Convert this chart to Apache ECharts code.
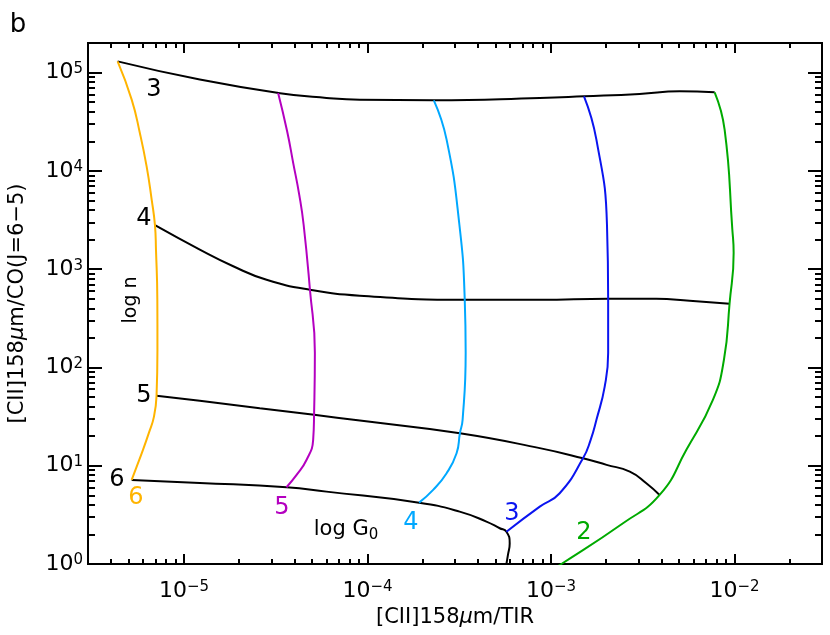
<!DOCTYPE html>
<html>
<head>
<meta charset="utf-8">
<script src="https://cdn.jsdelivr.net/npm/echarts@6/dist/echarts.min.js"></script>
<style>
  html, body { margin: 0; padding: 0; background: #fff; }
  #chart { width: 830px; height: 635px; }
</style>
</head>
<body>
<div id="chart"></div>
<script>
// axis ranges (data units) and decade ticks
const xRange = [3e-6, 3e-2]
const yRange = [1, 2e5]
const xDecades = [-5, -4, -3, -2]
const yDecades = [0, 1, 2, 3, 4, 5]

// curves of constant log G0
const g6X = [4.35e-6, 5.19e-6, 5.75e-6, 6.26e-6, 6.67e-6, 6.95e-6, 7.04e-6, 7.16e-6, 7.17e-6, 7.09e-6, 6.86e-6, 6.44e-6, 5.98e-6, 5.52e-6, 5.19e-6]
const g6Y = [1.30e5, 5.31e4, 2.43e4, 1.11e4, 5.09e3, 2.8e3, 1.58e3, 488, 151, 51.4, 31.4, 21.6, 14.5, 9.72, 7.17]
const g5X = [3.26e-5, 3.65e-5, 3.94e-5, 4.25e-5, 4.49e-5, 4.86e-5, 5.17e-5, 5.12e-5, 5.06e-5, 4.66e-5, 4.11e-5, 3.62e-5]
const g5Y = [6.21e4, 2.53e4, 1.20e4, 5.7e3, 2.83e3, 617, 141, 34.2, 18.3, 11.5, 8.06, 6.04]
const g4X = [2.30e-4, 2.70e-4, 3.17e-4, 3.39e-4, 3.43e-4, 3.30e-4, 3.19e-4, 3.06e-4, 2.70e-4, 2.28e-4, 1.912e-4]
const g4Y = [5.22e4, 2.08e4, 2.83e3, 488, 141, 29.3, 21.4, 13.4, 8.39, 5.67, 4.21]
const g3X = [1.514e-3, 1.769e-3, 2.02e-3, 2.05e-3, 2.05e-3, 1.963e-3, 1.77e-3, 1.646e-3, 1.495e-3, 1.116e-3, 8.69e-4, 5.72e-4]
const g3Y = [5.74e4, 2.08e4, 2.83e3, 500, 140, 63.9, 29.3, 18.3, 11.9, 5.25, 3.83, 2.13]
const g2X = [7.80e-3, 8.84e-3, 9.74e-3, 9.90e-3, 9.41e-3, 8.76e-3, 7.63e-3, 5.47e-3, 3.91e-3, 2.47e-3, 1.14e-3, 1.0e-3]
const g2Y = [6.30e4, 2.63e4, 2.52e3, 1.47e3, 452, 119, 46.8, 14.5, 5.04, 2.60, 1.0, 0.87]

// curves of constant log n
const n3X = [4.35e-6, 1.22e-5, 3.26e-5, 5.98e-5, 9.09e-5, 2.30e-4, 8.69e-4, 1.514e-3, 3.04e-3, 5.03e-3, 7.80e-3]
const n3Y = [1.30e5, 8.49e4, 6.21e4, 5.52e4, 5.28e4, 5.22e4, 5.52e4, 5.74e4, 6.07e4, 6.45e4, 6.30e4]
const n4X = [6.95e-6, 1.22e-5, 1.855e-5, 2.82e-5, 4.86e-5, 9.09e-5, 3.39e-4, 8.69e-4, 2.05e-3, 3.75e-3, 5.70e-3, 9.41e-3]
const n4Y = [2.8e3, 1.58e3, 1.07e3, 780, 617, 536, 488, 488, 500, 500, 477, 444]
const n5X = [7.09e-6, 1.22e-5, 2.59e-5, 5.12e-5, 9.09e-5, 3.19e-4, 8.69e-4, 1.495e-3, 2.01e-3, 2.69e-3, 3.31e-3, 3.91e-3]
const n5Y = [51.4, 45.7, 38.5, 33.0, 28.8, 21.4, 15.1, 11.9, 10.2, 8.71, 6.63, 5.04]
const n6X = [5.19e-6, 1.22e-5, 3.62e-5, 5.98e-5, 1.912e-4, 3.18e-4, 4.45e-4, 5.26e-4, 5.72e-4, 5.96e-4, 5.83e-4, 5.72e-4, 5.6e-4]
const n6Y = [7.17, 6.68, 6.04, 5.45, 4.21, 3.41, 2.70, 2.31, 2.13, 1.62, 1.24, 1.0, 0.77]

const FONT = 'DejaVu Sans'

const toLog = (xs, ys) => xs.map((x, i) => [Math.log10(x), Math.log10(ys[i])])

function minorTicks(range) {
  const lo = Math.log10(range[0]), hi = Math.log10(range[1])
  const out = []
  for (let d = Math.floor(lo); d <= Math.ceil(hi); d++) {
    for (let k = 2; k <= 9; k++) {
      const v = d + Math.log10(k)
      if (v > lo && v < hi) out.push(v)
    }
  }
  return out
}

// plain "10" in the label's own font, exponent as rich superscript
const powLabel = v => '10{sup|' + String(Math.round(v)).replace('-', '\u2212') + '}'

function makeAxis(dim, position, major, labelled) {
  const range = dim === 'x' ? xRange : yRange
  const ticks = major ? (dim === 'x' ? xDecades : yDecades) : minorTicks(range)
  const len = dim === 'x' ? (major ? 10 : 5) : (major ? 14 : 7)
  const axis = {
    type: 'value',
    position,
    min: Math.log10(range[0]),
    max: Math.log10(range[1]),
    axisLine: { show: true, onZero: false, lineStyle: { color: '#000', width: 2 } },
    axisTick: { show: true, inside: true, length: len, customValues: ticks, lineStyle: { color: '#000', width: 2 } },
    axisLabel: { show: false },
    splitLine: { show: false }
  }
  if (labelled) {
    axis.axisLabel = {
      show: true,
      customValues: ticks,
      margin: dim === 'x' ? 16 : 5,
      fontSize: 22,
      fontFamily: FONT,
      color: '#000',
      formatter: powLabel,
      rich: {
        sup: { fontSize: 15, fontFamily: FONT, color: '#000', verticalAlign: 'top', lineHeight: 15 }
      }
    }
  }
  return axis
}

const titleStyle = {
  fontSize: 21,
  fontFamily: FONT,
  rich: {
    a: { fontSize: 21, fontFamily: FONT, color: '#000' },
    m: { fontSize: 21, fontFamily: FONT, fontStyle: 'italic', color: '#000' }
  }
}

const xAxes = [
  makeAxis('x', 'bottom', true, true),
  makeAxis('x', 'bottom', false, false),
  makeAxis('x', 'top', true, false),
  makeAxis('x', 'top', false, false)
]
const yAxes = [
  makeAxis('y', 'left', true, true),
  makeAxis('y', 'left', false, false),
  makeAxis('y', 'right', true, false),
  makeAxis('y', 'right', false, false)
]
xAxes[0].name = '{a|[CII]158}{m|\u03bc}{a|m/TIR}'
xAxes[0].nameLocation = 'middle'
xAxes[0].nameGap = 42
xAxes[0].nameTextStyle = titleStyle
yAxes[0].name = '{a|[CII]158}{m|\u03bc}{a|m/CO(J=6\u22125)}'
yAxes[0].nameLocation = 'middle'
yAxes[0].nameRotate = 90
yAxes[0].nameGap = 60
yAxes[0].nameTextStyle = titleStyle

const curve = (name, xs, ys, color) => ({
  name,
  type: 'line',
  data: toLog(xs, ys),
  showSymbol: false,
  smooth: 0.5,
  clip: true,
  lineStyle: { color, width: 2 },
  z: 3
})

const text = (x, y, str, color, size, extra) => Object.assign({
  type: 'text',
  x, y,
  style: {
    text: str,
    fontSize: size || 23,
    fontFamily: FONT,
    fill: color,
    align: 'center',
    verticalAlign: 'middle'
  }
}, extra || {})

const chart = echarts.init(document.getElementById('chart'))
chart.setOption({
  animation: false,
  backgroundColor: '#fff',
  grid: { left: 88, right: 8, top: 43, bottom: 71, outerBoundsMode: 'none' },
  xAxis: xAxes,
  yAxis: yAxes,
  series: [
    curve('n3', n3X, n3Y, '#000'),
    curve('n4', n4X, n4Y, '#000'),
    curve('n5', n5X, n5Y, '#000'),
    curve('n6', n6X, n6Y, '#000'),
    curve('G6', g6X, g6Y, '#ffb400'),
    curve('G5', g5X, g5Y, '#b400c0'),
    curve('G4', g4X, g4Y, '#00a8ff'),
    curve('G3', g3X, g3Y, '#0a14f0'),
    curve('G2', g2X, g2Y, '#00aa00')
  ],
  graphic: [
    text(18, 25, 'b', '#000', 26),
    text(154, 90, '3', '#000', 24),
    text(144, 219, '4', '#000', 24),
    text(144, 396, '5', '#000', 24),
    text(117, 480, '6', '#000', 24),
    text(131, 300, 'log n', '#000', 19, { rotation: Math.PI / 2 }),
    text(136, 498, '6', '#ffb400', 24),
    text(282, 508, '5', '#b400c0', 24),
    text(411, 523, '4', '#00a8ff', 24),
    text(512, 514, '3', '#0a14f0', 24),
    text(584, 533, '2', '#00aa00', 24),
    {
      type: 'text',
      x: 346, y: 530,
      style: {
        text: '{a|log G}{s|0}',
        align: 'center',
        verticalAlign: 'middle',
        rich: {
          a: { fontSize: 21, fontFamily: FONT, fill: '#000', lineHeight: 26 },
          s: { fontSize: 15, fontFamily: FONT, fill: '#000', lineHeight: 15, verticalAlign: 'bottom' }
        }
      }
    }
  ]
})
</script>
</body>
</html>
